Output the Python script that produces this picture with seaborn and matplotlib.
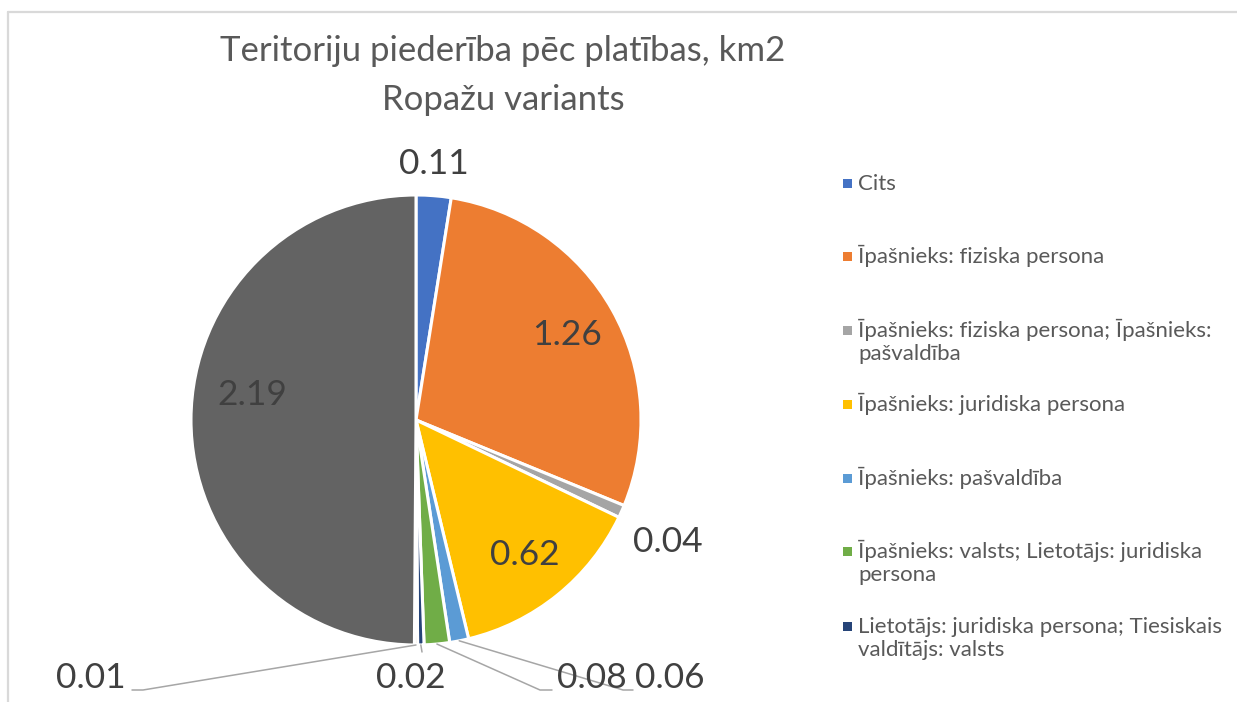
import numpy as np
import matplotlib
matplotlib.use("Agg")
import matplotlib.pyplot as plt
import seaborn as sns

# ---------------- data ----------------
categories = [
    "Cits",
    "Īpašnieks: fiziska persona",
    "Īpašnieks: fiziska persona; Īpašnieks: pašvaldība",
    "Īpašnieks: juridiska persona",
    "Īpašnieks: pašvaldība",
    "Īpašnieks: valsts; Lietotājs: juridiska persona",
    "Lietotājs: juridiska persona; Tiesiskais valdītājs: valsts",
    "Tiesiskais valdītājs: valsts",
    "Īpašnieks: valsts",
]
legend_labels = [
    "Cits",
    "Īpašnieks: fiziska persona",
    "Īpašnieks: fiziska persona; Īpašnieks:\npašvaldība",
    "Īpašnieks: juridiska persona",
    "Īpašnieks: pašvaldība",
    "Īpašnieks: valsts; Lietotājs: juridiska\npersona",
    "Lietotājs: juridiska persona; Tiesiskais\nvaldītājs: valsts",
]
values = [0.11, 1.26, 0.04, 0.62, 0.06, 0.08, 0.02, 0.01, 2.19]
title_lines = ["Teritoriju piederība pēc platības, km2", "Ropažu variants"]

colors = sns.color_palette(["#4472C4", "#ED7D31", "#A5A5A5", "#FFC000", "#5B9BD5",
                            "#70AD47", "#264478", "#9E480E", "#636363"])

# ---------------- layout ----------------
sns.set_theme(style="white")
plt.rcParams["font.family"] = ["Lato", "DejaVu Sans"]

W, H = 1237, 702
fig = plt.figure(figsize=(W / 100, H / 100), dpi=100)
ax = fig.add_axes([0, 0, 1, 1])

def Y(v):
    return H - v

cx, cy, R = 416, 420, 225
wedges, _ = ax.pie(values, colors=colors, startangle=90, counterclock=False,
                   center=(cx, Y(cy)), radius=R,
                   wedgeprops=dict(edgecolor="white", linewidth=2.2))
ax.set_xlim(0, W)
ax.set_ylim(0, H)
ax.set_aspect("equal")
ax.axis("off")

# border of chart area (top & left visible)
ax.plot([8, W + 5], [Y(12), Y(12)], color="#D9D9D9", lw=1.6, clip_on=False)
ax.plot([8, 8], [Y(12), -5], color="#D9D9D9", lw=1.6, clip_on=False)

# title
fig.text(503 / W, 1 - 51 / H, title_lines[0], ha="center", va="center",
         fontsize=25, color="#595959")
fig.text(503 / W, 1 - 100 / H, title_lines[1], ha="center", va="center",
         fontsize=25, color="#595959")

label_color = "#404040"
label_size = 25.5

def mid_point(w, frac):
    a = np.deg2rad((w.theta1 + w.theta2) / 2)
    return cx + frac * R * np.cos(a), Y(cy) + frac * R * np.sin(a)

inside = {1: None, 3: None, 8: (252, 395)}
outside = {
    0: ((434, 164), None),
    2: ((668, 542), None),
    4: ((670, 678), [(623, 690), (633, 690)]),
    5: ((592, 678), [(540, 690), (552, 690)]),
    6: ((411, 678), [(422, 652)]),
    7: ((91, 678), [(143, 690), (132, 690)]),
}

for i, w in enumerate(wedges):
    txt = f"{values[i]:.2f}"
    if i in inside:
        if inside[i] is None:
            x, y = mid_point(w, 0.77)
        else:
            x, y = inside[i][0], Y(inside[i][1])
        ax.text(x, y, txt, ha="center", va="center", fontsize=label_size, color=label_color)
    else:
        (tx, ty), leader = outside[i]
        ax.text(tx, Y(ty), txt, ha="center", va="center", fontsize=label_size, color=label_color)
        if leader:
            sx, sy = mid_point(w, 1.0)
            xs = [sx] + [p[0] for p in leader]
            ys = [sy] + [Y(p[1]) for p in leader]
            ax.plot(xs, ys, color="#A6A6A6", lw=1.1, clip_on=False)

# legend (first seven entries, as in the reference)
leg_y = [183, 256, 330, 404, 478, 551, 626]
for k, lab in enumerate(legend_labels):
    yy = leg_y[k]
    ax.add_patch(plt.Rectangle((843, Y(yy) - 4.5), 9, 9, color=colors[k], lw=0))
    for j, line in enumerate(lab.split("\n")):
        ax.text(858, Y(yy + 23 * j) - 7, line, ha="left", va="baseline",
                fontsize=16, color="#595959")

fig.savefig("out.png", dpi=100, facecolor="white")
